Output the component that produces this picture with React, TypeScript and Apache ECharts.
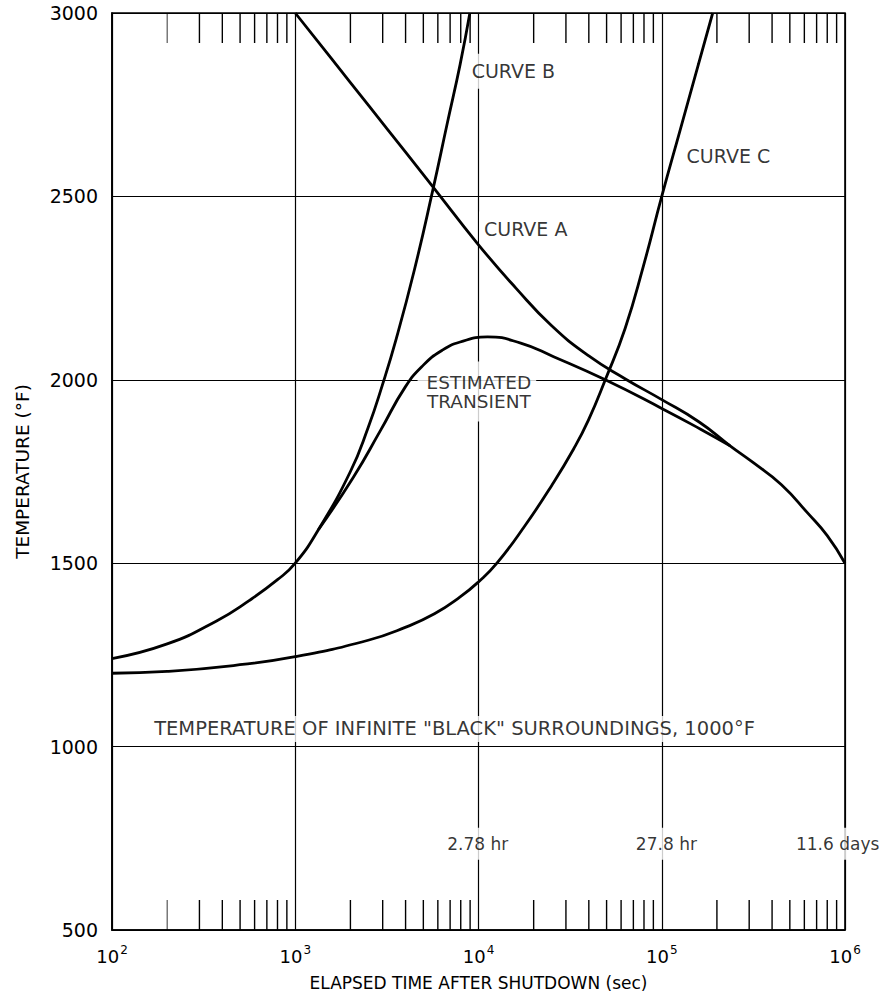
import React, { useEffect, useRef } from "react";
import * as echarts from "echarts";

const FONT = '"DejaVu Sans", "Liberation Sans", sans-serif';

// Axis ranges
const timeMin = 100;
const timeMax = 1000000;
const tempMin = 500;
const tempMax = 3000;
const tempStep = 500;

// Elapsed time after shutdown (sec) vs. temperature (°F)
const curveA: [number, number][] = [
  [1000, 3000], [1585, 2874], [2512, 2748], [3981, 2622], [5600, 2528],
  [10000, 2368], [16000, 2250], [25000, 2148], [40000, 2065], [63000, 2003],
  [100000, 1946], [160000, 1885], [236000, 1820], [316000, 1774],
  [450000, 1714], [630000, 1635], [800000, 1575], [1000000, 1500],
];

const curveB: [number, number][] = [
  [100, 1240], [200, 1280], [370, 1342], [560, 1398], [800, 1455],
  [1000, 1500], [1340, 1592], [2000, 1750], [2500, 1870], [2985, 1985],
  [3550, 2110], [4470, 2300], [5620, 2515], [6760, 2700], [7940, 2860],
  [8970, 3000],
];

const curveC: [number, number][] = [
  [100, 1200], [200, 1205], [460, 1221], [1000, 1245], [2500, 1290],
  [3980, 1325], [5750, 1362], [7940, 1408], [10000, 1449], [12600, 1500],
  [17800, 1600], [25100, 1712], [33100, 1812], [39800, 1890], [49200, 2000],
  [63100, 2140], [79400, 2310], [100000, 2500], [125900, 2680],
  [158500, 2860], [189700, 3000],
];

const estimatedTransient: [number, number][] = [
  [1340, 1592], [2080, 1735], [2920, 1862], [3980, 1980], [5000, 2040],
  [6310, 2080], [7940, 2103], [11200, 2117], [17000, 2100], [25700, 2063],
  [49200, 2000], [100000, 1922], [162000, 1866], [236000, 1820],
];

// Intermediate (2..9 x decade) tick values on the time axis
const minorTicks: number[] = [
  200, 300, 400, 500, 600, 700, 800, 900,
  2000, 3000, 4000, 5000, 6000, 7000, 8000, 9000,
  20000, 30000, 40000, 50000, 60000, 70000, 80000, 90000,
  200000, 300000, 400000, 500000, 600000, 700000, 800000, 900000,
];

// Notes placed on the plot: [time, temperature, text]
const curveNotes: [number, number, string][] = [
  [15500, 2841, "CURVE B"],
  [18100, 2411, "CURVE A"],
  [231000, 2611, "CURVE C"],
];
const transientNote: [number, number, string] = [9800, 1968, "ESTIMATED\nTRANSIENT"];
const surroundingsNote: [number, number, string] = [
  7400, 1048, 'TEMPERATURE OF INFINITE "BLACK" SURROUNDINGS, 1000°F',
];
const durationNotes: [number, number, string][] = [
  [9900, 735, "2.78 hr"],
  [106000, 735, "27.8 hr"],
  [912000, 735, "11.6 days"],
];

const curveLine = (name: string, data: [number, number][]) => ({
  name,
  type: "line",
  data,
  smooth: 0.5,
  showSymbol: false,
  symbol: "none",
  z: 5,
  lineStyle: { color: "#000", width: 2.8 },
  silent: true,
});

export default function App() {
  const ref = useRef<HTMLDivElement>(null);

  useEffect(() => {
    if (!ref.current) return;
    const chart = echarts.init(ref.current, undefined, { renderer: "svg" });

    const noteLabel = (extra: any = {}) => ({
      show: true,
      position: "inside",
      color: "#000",
      fontFamily: FONT,
      fontSize: 19,
      backgroundColor: "#fff",
      padding: [3, 5],
      ...extra,
    });

    const noteItem = (n: [number, number, string], extra: any = {}) => ({
      value: [n[0], n[1]],
      label: noteLabel({ formatter: n[2], ...extra }),
    });

    chart.setOption({
      animation: false,
      backgroundColor: "#fff",
      grid: {
        left: 112,
        right: 35,
        top: 13,
        bottom: 66,
        show: true,
        borderColor: "#000",
        borderWidth: 1.6,
        backgroundColor: "transparent",
      },
      xAxis: {
        type: "log",
        logBase: 10,
        min: timeMin,
        max: timeMax,
        name: "ELAPSED TIME AFTER SHUTDOWN (sec)",
        nameLocation: "middle",
        nameGap: 44,
        nameTextStyle: { fontFamily: FONT, fontSize: 17, color: "#000" },
        axisLine: { show: true, lineStyle: { color: "#000", width: 1.6 } },
        axisTick: { show: false },
        splitLine: { show: true, lineStyle: { color: "#000", width: 1.2 } },
        axisLabel: {
          margin: 14,
          color: "#000",
          fontFamily: FONT,
          fontSize: 18,
          formatter: (v: number) => `10{sup|${Math.round(Math.log10(v))}}`,
          rich: {
            sup: {
              fontFamily: FONT,
              fontSize: 12,
              color: "#000",
              verticalAlign: "top",
              padding: [0, 0, 12, 1],
            },
          },
        },
      },
      yAxis: {
        type: "value",
        min: tempMin,
        max: tempMax,
        interval: tempStep,
        name: "TEMPERATURE (°F)",
        nameLocation: "middle",
        nameRotate: 90,
        nameGap: 80,
        nameTextStyle: { fontFamily: FONT, fontSize: 18.5, color: "#000" },
        axisLine: { show: true, lineStyle: { color: "#000", width: 1.6 } },
        axisTick: { show: false },
        splitLine: { show: true, lineStyle: { color: "#000", width: 1.2 } },
        axisLabel: {
          margin: 14,
          color: "#000",
          fontFamily: FONT,
          fontSize: 19,
          formatter: (v: number) => String(v),
        },
      },
      series: [
        {
          name: "minor ticks",
          type: "custom",
          z: 3,
          silent: true,
          data: minorTicks.map((t) => [t, tempMin]),
          renderItem: (_params: any, api: any) => {
            const t = api.value(0);
            const top = api.coord([t, tempMax]);
            const bot = api.coord([t, tempMin]);
            const thin = t === 200;
            const style = { stroke: "#000", lineWidth: thin ? 0.8 : 1.4 };
            return {
              type: "group",
              children: [
                {
                  type: "line",
                  shape: { x1: top[0], y1: top[1], x2: top[0], y2: top[1] + 30 },
                  style,
                },
                {
                  type: "line",
                  shape: { x1: bot[0], y1: bot[1], x2: bot[0], y2: bot[1] - 30 },
                  style,
                },
              ],
            };
          },
        },
        {
          name: "notes",
          type: "scatter",
          z: 2,
          silent: true,
          symbolSize: 1,
          itemStyle: { color: "rgba(0,0,0,0)" },
          data: [
            ...curveNotes.map((n) => noteItem(n, { padding: [8, 5, 8, 5] })),
            noteItem(transientNote, {
              fontSize: 18.5,
              lineHeight: 19,
              align: "center",
              padding: [14, 5, 8, 9],
            }),
            noteItem(surroundingsNote, { fontSize: 19.5, padding: [3, 4] }),
            ...durationNotes.map((n) => noteItem(n, { fontSize: 17, padding: [8, 4, 7, 4] })),
          ],
        },
        curveLine("Curve A", curveA),
        curveLine("Curve B", curveB),
        curveLine("Curve C", curveC),
        curveLine("Estimated transient", estimatedTransient),
      ],
    });

    return () => chart.dispose();
  }, []);

  return (
    <div
      ref={ref}
      style={{ position: "fixed", left: 0, top: 0, width: 880, height: 996 }}
    />
  );
}
